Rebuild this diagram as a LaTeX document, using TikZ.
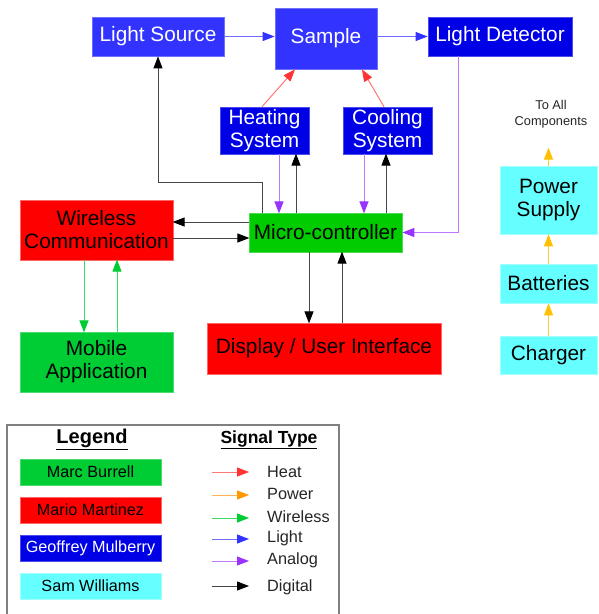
\documentclass[tikz,border=0pt]{standalone}
\usepackage{fontspec}
\setmainfont{Liberation Sans}
\usetikzlibrary{arrows.meta}

% block colours
\definecolor{bluelight}{RGB}{51,51,255}
\definecolor{bluedark}{RGB}{0,0,230}
\definecolor{greenA}{RGB}{0,204,0}
\definecolor{greenB}{RGB}{0,204,51}
\definecolor{redbox}{RGB}{255,0,0}
\definecolor{cyanbox}{RGB}{102,255,255}
% signal colours
\definecolor{heatline}{RGB}{255,120,120}
\definecolor{heathead}{RGB}{255,51,51}
\definecolor{powline}{RGB}{255,200,60}
\definecolor{powhead}{RGB}{255,192,0}
\definecolor{powlegline}{RGB}{255,180,90}
\definecolor{powleghead}{RGB}{255,153,0}
\definecolor{wirline}{RGB}{60,220,100}
\definecolor{wirhead}{RGB}{0,204,51}
\definecolor{litline}{RGB}{110,110,255}
\definecolor{lithead}{RGB}{51,51,255}
\definecolor{analine}{RGB}{190,120,255}
\definecolor{anahead}{RGB}{153,51,255}
\definecolor{digline}{RGB}{70,70,70}

\begin{document}
\begin{tikzpicture}[x=1pt,y=-1pt,
  blockbox/.style={rectangle, inner sep=0pt, align=center,
    font=\fontsize{20.8}{23}\selectfont, line width=0.8pt},
  bluelt/.style={blockbox, fill=bluelight, draw=bluelight!70!white, text=white},
  bluedk/.style={blockbox, fill=bluedark, draw=bluedark!70!white, text=white},
  greenbx/.style={blockbox, fill=#1, draw=#1!70!white, text=black},
  redbx/.style={blockbox, fill=redbox, draw=redbox!60!white, text=black},
  cyanbx/.style={blockbox, fill=cyanbox, draw=cyanbox!60!white, text=black},
  sig/.style 2 args={draw=#1, line width=1pt,
    -{Triangle[length=12pt,width=9pt,color=#2]}},
  heatsig/.style={sig={heatline}{heathead}},
  powsig/.style={sig={powline}{powhead}},
  wirsig/.style={sig={wirline}{wirhead}},
  litsig/.style={sig={litline}{lithead}},
  anasig/.style={sig={analine}{anahead}},
  digsig/.style={sig={digline}{black}},
  legbox/.style={rectangle, inner sep=0pt, minimum width=141pt,
    minimum height=26pt, font=\fontsize{16.2}{19}\selectfont, line width=0.8pt},
  siglabel/.style={anchor=west, inner sep=0pt,
    font=\fontsize{16.3}{19}\selectfont, text=black!85},
]
\useasboundingbox (0,0) rectangle (598,614);
\fill[white] (0,0) rectangle (598,614);

% ---- optical path ----
\node[bluelt, minimum width=132pt, minimum height=39pt] (ls) at (158,36.5) {Light Source};
\node[bluelt, minimum width=102pt, minimum height=61pt] (sample) at (326,38.5) {Sample};
\node[bluedk, minimum width=144pt, minimum height=39pt] (ld) at (500,36.5) {Light Detector};
\node[bluedk, minimum width=89pt, minimum height=47pt] (heat) at (264.5,130.5) {Heating\\System};
\node[bluedk, minimum width=89pt, minimum height=47pt] (cool) at (387.5,130.5) {Cooling\\System};

% ---- control and interface ----
\node[greenbx=greenA, minimum width=153pt, minimum height=39pt] (micro) at (325.5,232.5) {Micro-controller};
\node[redbx, minimum width=153pt, minimum height=60pt] (wc) at (96.5,230) {Wireless\\Communication};
\node[greenbx=greenB, minimum width=153pt, minimum height=60pt] (mob) at (96.5,362) {Mobile\\Application};
\node[redbx, minimum width=234pt, minimum height=51pt] (disp) at (324,348.5) {Display / User Interface};

% ---- power chain ----
\node[cyanbx, minimum width=97pt, minimum height=68pt] (ps) at (548.5,200) {Power\\Supply};
\node[cyanbx, minimum width=97pt, minimum height=39pt] (bat) at (548.5,283.5) {Batteries};
\node[cyanbx, minimum width=97pt, minimum height=38pt] (ch) at (548.5,355) {Charger};
\node[inner sep=0pt, align=center, font=\fontsize{12.8}{16}\selectfont, text=black!85] (tac) at (551,114) {To All\\Components};

% ---- connectors ----
\draw[litsig] (ls.east) -- (ls.east -| sample.west);
\draw[litsig] (sample.east |- ld.west) -- (ld.west);
\draw[heatsig] ([xshift=-2.5pt]heat.north) -- ([xshift=-31pt]sample.south);
\draw[heatsig] ([xshift=-3.5pt]cool.north) -- ([xshift=36pt]sample.south);

\draw[anasig] ([xshift=14.5pt]heat.south) -- ++(0,59);
\draw[digsig] ([xshift=-29.5pt]micro.north) -- ++(0,-59);
\draw[anasig] ([xshift=-23.5pt]cool.south) -- ++(0,59);
\draw[digsig] ([xshift=60.5pt]micro.north) -- ++(0,-59);

\draw[digsig] ([xshift=-63.5pt]micro.north) -- ++(0,-30) -| (ls.south);
\draw[anasig] ([xshift=-42pt]ld.south) |- (micro.east);

\draw[digsig] ([yshift=10.5pt]micro.west) -- ++(-76,0);
\draw[digsig] ([yshift=-8pt]wc.east) -- ++(76,0);
\draw[wirsig] ([xshift=-12.5pt]wc.south) -- ++(0,72);
\draw[wirsig] ([xshift=20.5pt]mob.north) -- ++(0,-72);
\draw[digsig] ([xshift=-16.5pt]micro.south) -- ++(0,71);
\draw[digsig] ([xshift=18pt]disp.north) -- ++(0,-71);

\draw[powsig] (ch.north) -- (bat.south);
\draw[powsig] (bat.north) -- (ps.south);
\draw[powsig] (ps.north) -- ++(0,-18);

% ---- legend ----
\draw[black!50, line width=1.3pt] (7,640) -- (7,425) -- (339,425) -- (339,640);
\node[font=\bfseries\fontsize{20}{24}\selectfont, inner sep=0pt] (legtitle) at (92,439) {\underline{Legend}};
\node[font=\bfseries\fontsize{17.5}{21}\selectfont, inner sep=0pt] (sigtitle) at (269,440) {\underline{Signal Type}};

\node[legbox, fill=greenB, draw=greenB!70!white, text=black] (lmarc) at (90.5,472) {Marc Burrell};
\node[legbox, fill=redbox, draw=redbox!60!white, text=black] (lmario) at (90.5,510) {Mario Martinez};
\node[legbox, fill=bluedark, draw=bluedark!70!white, text=white] (lgeof) at (90.5,548) {Geoffrey Mulberry};
\node[legbox, fill=cyanbox, draw=cyanbox!60!white, text=black] (lsam) at (90.5,586) {Sam Williams};

\node[siglabel] (kheat) at (267,472) {Heat};
\node[siglabel] (kpow) at (267,494) {Power};
\node[siglabel] (kwir) at (267,517) {Wireless};
\node[siglabel] (klit) at (267,538) {Light};
\node[siglabel] (kana) at (267,560) {Analog};
\node[siglabel] (kdig) at (267,587) {Digital};

\draw[heatsig] ([xshift=-55pt]kheat.west) -- ([xshift=-18pt]kheat.west);
\draw[sig={powlegline}{powleghead}] ([xshift=-55pt,yshift=-1pt]kpow.west) -- ([xshift=-18pt,yshift=-1pt]kpow.west);
\draw[wirsig] ([xshift=-55pt,yshift=-1pt]kwir.west) -- ([xshift=-18pt,yshift=-1pt]kwir.west);
\draw[litsig] ([xshift=-55pt,yshift=-1pt]klit.west) -- ([xshift=-18pt,yshift=-1pt]klit.west);
\draw[anasig] ([xshift=-55pt,yshift=-1pt]kana.west) -- ([xshift=-18pt,yshift=-1pt]kana.west);
\draw[digsig] ([xshift=-55pt,yshift=1pt]kdig.west) -- ([xshift=-18pt,yshift=1pt]kdig.west);
\end{tikzpicture}
\end{document}
